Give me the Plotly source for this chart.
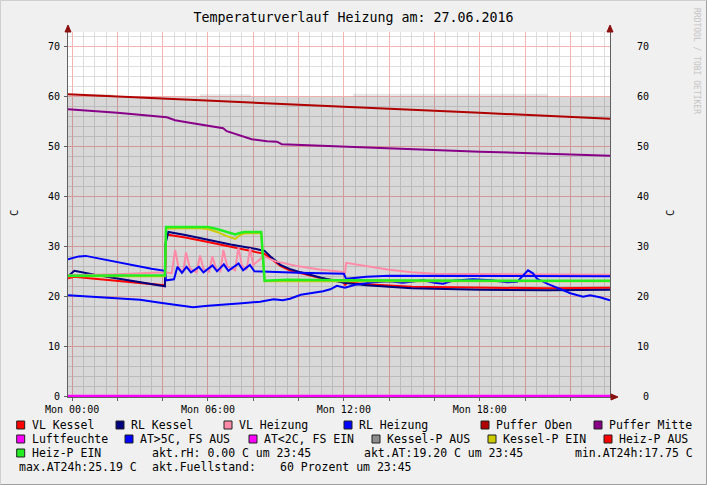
import plotly.graph_objects as go

# ---------------- data (hours since Mon 00:00, degrees C) ----------------
puffer_oben_t = [-0.18, 6.0, 12.0, 18.0, 23.75]
puffer_oben_v = [60.5, 59.3, 58.0, 56.8, 55.6]

puffer_mitte_t = [-0.18, 2.0, 4.18, 4.55, 5.06, 5.95, 6.67, 6.83, 7.4, 7.93, 8.6, 9.04, 9.26, 12.7, 18.0, 23.75]
puffer_mitte_v = [57.5, 56.8, 55.9, 55.3, 54.9, 54.2, 53.7, 53.1, 52.2, 51.5, 51.1, 51.0, 50.5, 49.9, 49.0, 48.2]

fuell_t = [-0.18, 23.75]
fuell_v = [60.0, 60.0]
fuell_hi_t = [-0.18, 1.8, 5.65, 7.9, 12.4, 21.0, 23.75]
fuell_hi_v = [60.5, 60.0, 60.5, 60.0, 60.6, 60.0, 60.0]

vl_kessel_t = [-0.18, 0.1, 1.0, 2.0, 3.0, 4.1, 4.15, 5.0, 6.0, 7.0, 8.0, 8.5, 8.8, 9.2, 9.6, 10.1, 11.0, 12.0, 12.05, 12.15, 13.0, 15.0, 18.0, 21.0, 23.75]
vl_kessel_v = [23.6, 23.9, 23.5, 23.1, 22.6, 22.2, 32.4, 31.8, 30.9, 30.0, 29.0, 28.5, 27.5, 26.1, 25.2, 24.6, 23.6, 22.9, 22.2, 22.8, 22.4, 21.9, 21.7, 21.6, 21.7]

rl_kessel_t = [-0.18, 0.1, 1.0, 2.0, 3.0, 4.1, 4.12, 4.25, 5.0, 6.0, 7.0, 8.0, 8.5, 8.8, 9.2, 9.6, 10.1, 11.0, 12.0, 13.0, 15.0, 18.0, 21.0, 23.75]
rl_kessel_v = [24.0, 25.1, 24.3, 23.6, 22.9, 22.0, 30.5, 32.9, 32.3, 31.3, 30.4, 29.6, 29.1, 27.8, 26.3, 25.5, 24.8, 23.7, 22.7, 22.2, 21.6, 21.3, 21.2, 21.3]

vl_heiz_t = [-0.18, 2.0, 4.1, 4.4, 4.55, 4.7, 4.9, 5.03, 5.2, 5.5, 5.65, 5.8, 6.05, 6.19, 6.35, 6.55, 6.68, 6.85, 7.2, 7.34, 7.5, 7.7, 7.86, 8.0, 8.45, 9.0, 10.0, 11.0, 11.9, 12.05, 12.1, 13.0, 14.0, 15.0, 16.0, 23.75]
vl_heiz_v = [24.2, 24.4, 24.8, 24.6, 29.3, 25.8, 24.8, 28.8, 25.6, 24.8, 28.2, 25.5, 24.9, 28.0, 25.6, 25.0, 29.3, 26.0, 25.2, 29.8, 26.2, 25.3, 29.6, 26.3, 28.0, 27.0, 26.0, 25.3, 24.9, 24.7, 26.7, 26.0, 25.3, 24.8, 24.5, 24.3]

rl_heiz_t = [-0.18, 0.3, 0.6, 1.5, 2.5, 3.5, 4.1, 4.15, 4.5, 4.65, 4.85, 5.05, 5.25, 5.6, 5.8, 6.2, 6.4, 6.7, 6.9, 7.35, 7.55, 7.85, 8.05, 8.5, 10.0, 12.0, 12.1, 13.0, 14.0, 23.75]
rl_heiz_v = [27.4, 28.0, 28.1, 27.3, 26.3, 25.5, 25.1, 23.2, 23.4, 25.9, 24.7, 25.9, 24.8, 25.9, 24.8, 26.2, 25.0, 26.4, 25.1, 26.6, 25.2, 26.3, 25.0, 24.9, 24.7, 24.5, 23.5, 23.9, 24.1, 24.0]

at_t = [-0.18, 0.5, 1.0, 1.68, 2.3, 3.0, 3.89, 4.6, 5.34, 6.0, 6.83, 7.5, 8.3, 8.9, 9.3, 9.62, 10.1, 10.6, 11.08, 11.4, 11.69, 12.05, 12.5, 13.29, 14.0, 14.6, 15.5, 16.0, 16.38, 16.8, 17.7, 18.5, 19.2, 19.65, 19.9, 20.13, 20.35, 20.53, 21.0, 21.41, 22.0, 22.56, 22.87, 23.3, 23.75]
at_v = [20.2, 20.0, 19.8, 19.6, 19.5, 19.3, 18.7, 18.3, 17.8, 18.1, 18.3, 18.6, 18.9, 19.4, 19.2, 19.5, 20.3, 20.6, 21.0, 21.4, 22.1, 21.7, 22.3, 22.8, 23.0, 22.7, 23.2, 22.7, 22.5, 23.1, 23.4, 23.2, 22.8, 22.9, 24.2, 25.2, 24.6, 23.5, 22.5, 21.7, 20.6, 19.9, 20.2, 19.8, 19.2]

luft_t = [-0.18, 23.75]
luft_v = [0.0, 0.0]

kessel_ein_t = [-0.18, 4.1, 4.15, 5.5, 6.0, 6.4, 6.8, 7.2, 7.4, 7.6, 8.35, 8.5, 23.75]
kessel_ein_v = [24.0, 24.0, 33.6, 33.7, 33.5, 32.9, 32.1, 31.5, 32.2, 32.6, 32.7, 23.0, 23.0]

heiz_ein_t = [-0.18, 4.1, 4.15, 5.5, 6.0, 6.4, 6.8, 7.2, 7.4, 7.6, 8.35, 8.5, 9.5, 12.0, 23.75]
heiz_ein_v = [24.1, 24.2, 33.9, 34.0, 33.9, 33.5, 32.9, 32.4, 32.7, 32.9, 32.9, 23.1, 23.3, 23.2, 23.1]

x_tickvals = [0, 2, 4, 6, 8, 10, 12, 14, 16, 18, 20, 22]
x_ticktext = ["Mon 00:00", "", "", "Mon 06:00", "", "", "Mon 12:00", "", "", "Mon 18:00", "", ""]
y_tickvals = [0, 10, 20, 30, 40, 50, 60, 70]

legend_row1 = ["VL Kessel", "RL Kessel", "VL Heizung", "RL Heizung", "Puffer Oben", "Puffer Mitte"]
legend_row2 = ["Luftfeuchte", "AT>5C, FS AUS", "AT<2C, FS EIN", "Kessel-P AUS", "Kessel-P EIN", "Heiz-P AUS"]
legend_row3 = ["Heiz-P EIN"]
info_texts = ["akt.rH: 0.00 C um 23:45", "akt.AT:19.20 C um 23:45", "min.AT24h:17.75 C",
              "max.AT24h:25.19 C", "akt.Fuellstand:", "60 Prozent um 23:45"]

# ---------------- style ----------------
C = dict(vlk="#ff0000", rlk="#000080", vlh="#ff8aa8", rlh="#0000ff", po="#b00000", pm="#880088",
         luft="#ff00ff", at5="#0000ff", at2="#ff00ff", kaus="#8c8c8c", kein="#cccc00",
         haus="#ff0000", hein="#22ee22")
MONO = "DejaVu Sans Mono"

fig = go.Figure()

def line(t, v, color, name, width=2, yaxis="y"):
    fig.add_trace(go.Scatter(x=t, y=v, mode="lines", name=name, yaxis=yaxis,
                             line=dict(color=color, width=width), hoverinfo="skip"))

fig.add_trace(go.Scatter(x=fuell_t, y=fuell_v, mode="lines", line=dict(width=0),
                         fill="tozeroy", fillcolor="rgba(0,0,0,0.153)", name="Fuellstand", hoverinfo="skip"))
fig.add_trace(go.Scatter(x=fuell_hi_t, y=fuell_hi_v, mode="lines", line=dict(width=0, shape="hv"),
                         fill="tonexty", fillcolor="rgba(0,0,0,0.09)", name="Fuellstand+", hoverinfo="skip"))

line(vl_kessel_t, vl_kessel_v, C["vlk"], "VL Kessel")
line(rl_kessel_t, rl_kessel_v, C["rlk"], "RL Kessel")
line(vl_heiz_t, vl_heiz_v, C["vlh"], "VL Heizung")
line(rl_heiz_t, rl_heiz_v, C["rlh"], "RL Heizung")
line(puffer_oben_t, puffer_oben_v, C["po"], "Puffer Oben")
line(puffer_mitte_t, puffer_mitte_v, C["pm"], "Puffer Mitte")
line(luft_t, luft_v, C["luft"], "Luftfeuchte", width=2.5)
line(at_t, at_v, C["at5"], "AT>5C, FS AUS")
line(kessel_ein_t, kessel_ein_v, C["kein"], "Kessel-P EIN")
line(heiz_ein_t, heiz_ein_v, C["hein"], "Heiz-P EIN", width=2.5, yaxis="y2")

L, R, T, B = 68, 97, 32, 88
W, H = 707, 485
PW, PH = W - L - R, H - T - B

def px(p):
    return (p - L) / PW

def py(p):
    return (T + PH - p) / PH

YR = [-0.2, 73]
axis_font = dict(family=MONO, size=10, color="#000")

fig.update_layout(
    width=W, height=H, margin=dict(l=L, r=R, t=T, b=B),
    paper_bgcolor="#f0f0f0", plot_bgcolor="#ffffff", showlegend=False,
    title=dict(text="Temperaturverlauf Heizung am: 27.06.2016", x=0.5, xref="container",
               y=1 - 17 / H, yref="container", yanchor="middle", xanchor="center",
               font=dict(family=MONO, size=13.3, color="#000")),
    xaxis=dict(range=[-0.18, 23.75], tickmode="array", tickvals=x_tickvals, ticktext=x_ticktext,
               showgrid=True, gridcolor="#f6b4b4", gridwidth=1, zeroline=False,
               showline=True, linecolor="#606060", linewidth=1,
               ticks="outside", ticklen=3, tickcolor="#606060", tickfont=axis_font,
               minor=dict(tickmode="linear", tick0=0, dtick=0.5, showgrid=True,
                          gridcolor="#dddddd", gridwidth=1, ticks="")),
    yaxis=dict(range=YR, tickmode="array", tickvals=y_tickvals, ticktext=[str(v) for v in y_tickvals],
               showgrid=True, gridcolor="#f6b4b4", gridwidth=1, zeroline=False,
               showline=True, linecolor="#606060", linewidth=1,
               ticks="outside", ticklen=3, tickcolor="#606060", tickfont=axis_font,
               ticklabelstandoff=2,
               minor=dict(tickmode="linear", tick0=0, dtick=2, showgrid=True,
                          gridcolor="#dddddd", gridwidth=1, ticks="")),
    yaxis2=dict(range=YR, overlaying="y", side="right", tickmode="array", tickvals=y_tickvals,
                ticktext=[("\u00a0" + str(v)) if v < 10 else str(v) for v in y_tickvals],
                showgrid=False, zeroline=False, showline=True, linecolor="#606060", linewidth=1,
                ticks="", tickfont=axis_font, ticklabelstandoff=24),
)

shapes = []
arrow = "#8b1010"
# axis overhangs + arrows
shapes.append(dict(type="line", xref="paper", yref="paper", x0=0, x1=0, y0=1, y1=py(27),
                   line=dict(color="#606060", width=1)))
shapes.append(dict(type="line", xref="paper", yref="paper", x0=1, x1=1, y0=1, y1=py(27),
                   line=dict(color="#606060", width=1)))
shapes.append(dict(type="line", xref="paper", yref="paper", x0=1, x1=px(614), y0=0, y1=0,
                   line=dict(color="#606060", width=1)))
for xa in (68, 610):
    shapes.append(dict(type="path", xref="paper", yref="paper", fillcolor=arrow, line=dict(color=arrow, width=1),
                       path=f"M {px(xa-3)} {py(32)} L {px(xa)} {py(25)} L {px(xa+3)} {py(32)} Z"))
shapes.append(dict(type="path", xref="paper", yref="paper", fillcolor=arrow, line=dict(color=arrow, width=1),
                   path=f"M {px(611)} {py(394)} L {px(618)} {py(397)} L {px(611)} {py(400)} Z"))
# outer frame (3D border)
shapes.append(dict(type="line", xref="paper", yref="paper", x0=px(0.5), x1=px(706.5), y0=py(0.5), y1=py(0.5),
                   line=dict(color="#cfcfcf", width=1)))
shapes.append(dict(type="line", xref="paper", yref="paper", x0=px(0.5), x1=px(0.5), y0=py(0.5), y1=py(484.5),
                   line=dict(color="#cfcfcf", width=1)))
shapes.append(dict(type="line", xref="paper", yref="paper", x0=px(706.5), x1=px(706.5), y0=py(0.5), y1=py(484.5),
                   line=dict(color="#9e9e9e", width=1)))
shapes.append(dict(type="line", xref="paper", yref="paper", x0=px(0.5), x1=px(706.5), y0=py(484.5), y1=py(484.5),
                   line=dict(color="#9e9e9e", width=1)))

annotations = []

def text(x, y, s, size=11.5, color="#000", anchor="left", angle=0, family=MONO):
    annotations.append(dict(xref="paper", yref="paper", x=px(x), y=py(y), text=s, showarrow=False,
                            xanchor=anchor, yanchor="middle", textangle=angle,
                            font=dict(family=family, size=size, color=color)))

def legend_item(x, y, label, color):
    shapes.append(dict(type="rect", xref="paper", yref="paper", x0=px(x), x1=px(x + 8),
                       y0=py(y - 4), y1=py(y + 4), fillcolor=color, line=dict(color="#202020", width=1)))
    text(x + 13, y, label)

row1_x = [16.7, 116, 224, 344, 481, 594]
row1_c = [C["vlk"], C["rlk"], C["vlh"], C["rlh"], C["po"], C["pm"]]
row2_x = [16.7, 125, 249, 372, 488, 604]
row2_c = [C["luft"], C["at5"], C["at2"], C["kaus"], C["kein"], C["haus"]]
for x, lab, c in zip(row1_x, legend_row1, row1_c):
    legend_item(x, 425, lab, c)
for x, lab, c in zip(row2_x, legend_row2, row2_c):
    legend_item(x, 439, lab, c)
legend_item(16.7, 453, legend_row3[0], C["hein"])
text(150, 453, info_texts[0])
text(362, 453, info_texts[1])
text(573, 453, info_texts[2])
text(16.7, 467, info_texts[3])
text(150, 467, info_texts[4])
text(278, 467, info_texts[5])

# axis unit labels
text(14, 213, "C", size=10.5, anchor="center", angle=-90)
text(670, 213, "C", size=10.5, anchor="center", angle=-90)
# watermark
text(697, 61, "RRDTOOL / TOBI OETIKER", size=8, color="#c4c4c4", anchor="center", angle=90)

fig.update_layout(shapes=shapes, annotations=annotations)
fig.write_html("out.html", config={"displayModeBar": False},
               post_script="document.body.style.margin='0';document.body.style.padding='0';"
                           "document.body.style.overflow='hidden';")
